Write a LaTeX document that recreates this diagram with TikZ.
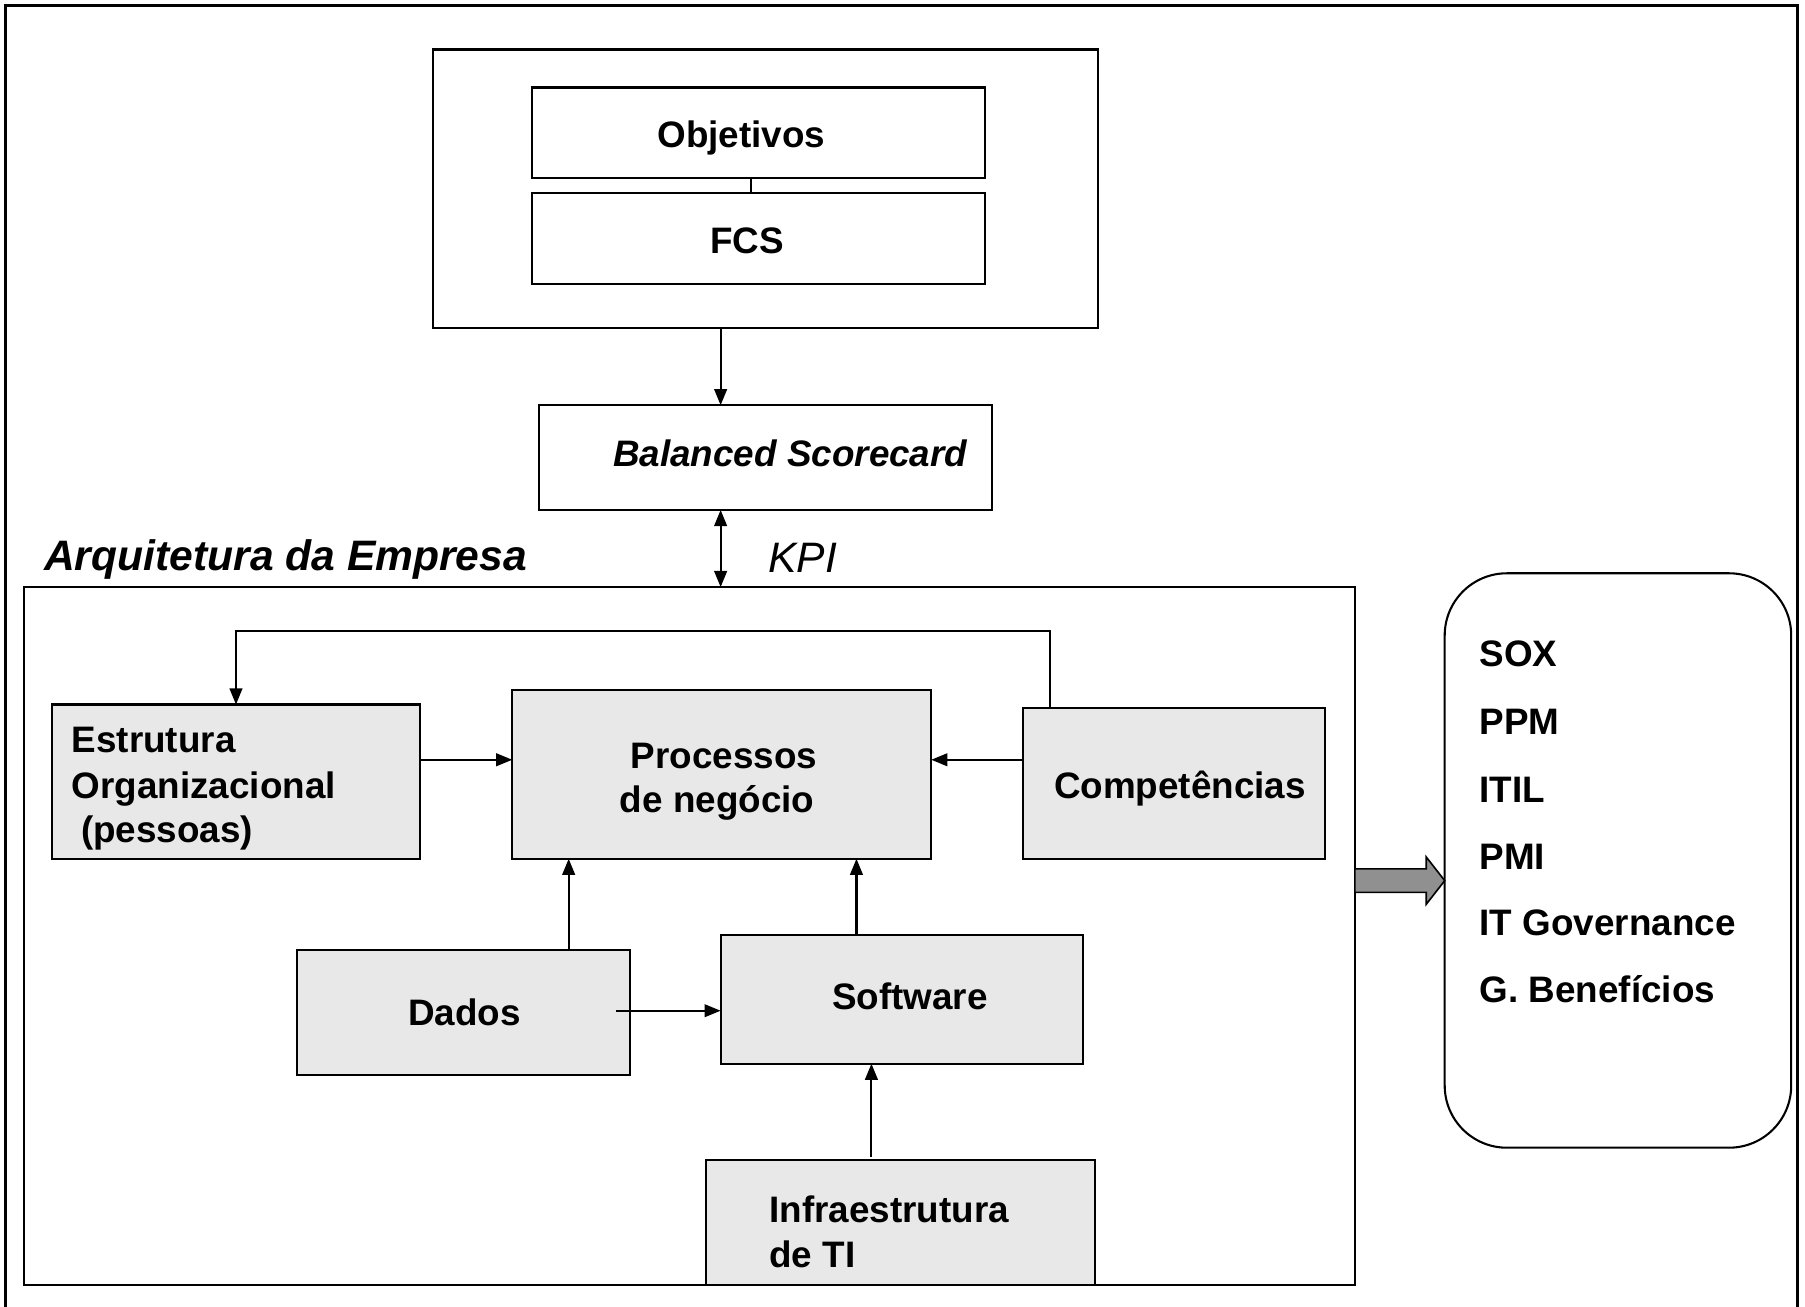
\documentclass[tikz,border=0pt]{standalone}
\usepackage{fontspec}
\setmainfont{Liberation Sans}
\usetikzlibrary{arrows.meta,calc}
\definecolor{boxgray}{RGB}{232,232,232}
\definecolor{arrowgray}{RGB}{144,144,144}
\begin{document}
\begin{tikzpicture}[x=0.5pt,y=-0.5pt,
  frame/.style={draw,line width=0.9pt,inner sep=0pt,outer sep=0pt},
  graybox/.style={frame,fill=boxgray},
  txt/.style={font=\fontsize{16}{19.5}\selectfont\bfseries,inner sep=0pt},
  bigit/.style={font=\fontsize{18.5}{22}\selectfont\itshape,inner sep=0pt},
  arr/.style={line width=0.9pt,-{Triangle[length=7pt,width=5.5pt]}},
  darr/.style={line width=0.9pt,{Triangle[length=7pt,width=5.5pt]}-{Triangle[length=7pt,width=5.5pt]}},
  link/.style={line width=0.9pt}]

% page size
\useasboundingbox (0,0) rectangle (1568,1135);

% outer frame (open at the bottom)
\draw[line width=1.3pt] (5.2,1135) -- (5.2,5.2) -- (1561.6,5.2) -- (1561.6,1135);

% strategy block
\node[frame,minimum width=289pt,minimum height=121pt] (top) at (665,164) {};
\node[frame,minimum width=197pt,minimum height=39.5pt] (obj) at (659,115.5) {};
\node[frame,minimum width=197pt,minimum height=39.5pt] (fcs) at (659,207.5) {};
\node[txt,anchor=base] (tobj) at (644,128) {Objetivos};
\node[txt,anchor=base] (tfcs) at (649,220) {FCS};
\coordinate (ofx) at (652,0);
\draw[link] (obj.south -| ofx) -- (fcs.north -| ofx);

% balanced scorecard
\node[frame,minimum width=197pt,minimum height=45.5pt] (bsc) at (665,397.5) {};
\node[txt,anchor=base,font=\fontsize{16}{19.5}\selectfont\bfseries\itshape] (tbsc) at (686.5,405) {Balanced Scorecard};
\coordinate (kx) at (626,0);
\draw[arr] (top.south -| kx) -- (bsc.north -| kx);

% enterprise architecture
\node[frame,minimum width=578pt,minimum height=303pt] (ent) at (599,813) {};
\node[bigit,font=\fontsize{18.5}{22}\selectfont\bfseries\itshape,anchor=base west] (tent) at (38,496) {Arquitetura da Empresa};
\draw[darr] (bsc.south -| kx) -- (ent.north -| kx);
\node[bigit,anchor=base west] (tkpi) at (667,497) {KPI};

% inner blocks
\node[graybox,minimum width=160pt,minimum height=67pt] (est) at (205,679) {};
\node[graybox,minimum width=182pt,minimum height=73.5pt] (proc) at (627,672.5) {};
\node[graybox,minimum width=131pt,minimum height=65.5pt] (comp) at (1020,680.5) {};
\node[graybox,minimum width=144.5pt,minimum height=54.5pt] (dados) at (402.5,879.5) {};
\node[graybox,minimum width=157.5pt,minimum height=56pt] (soft) at (783.5,868) {};
\node[graybox,minimum width=169pt,minimum height=54pt] (infra) at (782,1062) {};

\node[txt,anchor=base west] (t1) at (62,654) {Estrutura};
\node[txt,anchor=base west] (t2) at (62,694) {Organizacional};
\node[txt,anchor=base west] (t3) at (70,732) {(pessoas)};
\node[txt,anchor=base] (t4) at (629,668) {Processos};
\node[txt,anchor=base] (t5) at (623,706) {de negócio};
\node[txt,anchor=base] (t6) at (1025,694) {Competências};
\node[txt,anchor=base] (t7) at (403.5,891) {Dados};
\node[txt,anchor=base] (t8) at (790.5,877) {Software};
\node[txt,anchor=base west] (t9) at (668,1062) {Infraestrutura};
\node[txt,anchor=base west] (t10) at (668,1101) {de TI};

% connectors
\coordinate (hy) at (0,660);
\draw[arr] (est.east |- hy) -- (proc.west |- hy);
\draw[arr] (comp.west |- hy) -- (proc.east |- hy);
\coordinate (fbr) at (912,548);
\coordinate (fbl) at (205,548);
\draw[arr] (comp.north -| fbr) -- (fbr) -- (fbl) -- (est.north);
\coordinate (dx) at (494,0);
\draw[arr] (dados.north -| dx) -- (proc.south -| dx);
\coordinate (sx) at (744,0);
\draw[arr] (soft.north -| sx) -- (proc.south -| sx);
\coordinate (ds) at (535,878);
\draw[arr] (ds) -- (soft.west |- ds);
\coordinate (ix) at (757,1005);
\draw[arr] (ix) -- (soft.south -| ix);

% frameworks
\node[frame,rounded corners=27pt,minimum width=150.5pt,minimum height=249.5pt] (rbox) at (1405.5,747.5) {};
\node[txt,anchor=base west] (r1) at (1285,579) {SOX};
\node[txt,anchor=base west] (r2) at (1285,638) {PPM};
\node[txt,anchor=base west] (r3) at (1285,697) {ITIL};
\node[txt,anchor=base west] (r4) at (1285,755) {PMI};
\node[txt,anchor=base west] (r5) at (1285,813) {IT Governance};
\node[txt,anchor=base west] (r6) at (1285,871) {G. Benefícios};

% block arrow towards the frameworks
\coordinate (ga) at (ent.east |- 0,765);
\filldraw[fill=arrowgray,line width=0.7pt]
  ($(ga)+(0,-10.25)$) -- ++(62,0) -- ++(0,-10.25) -- (rbox.west |- ga)
  -- ($(ga)+(62,20.5)$) -- ++(0,-10.25) -- ($(ga)+(0,10.25)$) -- cycle;
\end{tikzpicture}
\end{document}
